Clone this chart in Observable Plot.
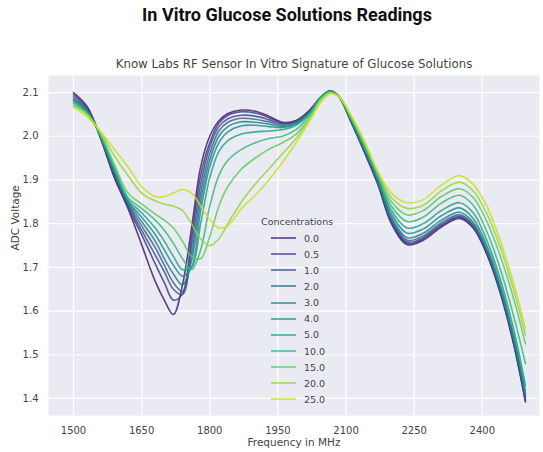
<!DOCTYPE html>
<html>
<head>
<meta charset="utf-8">
<script src="https://cdn.jsdelivr.net/npm/d3@7"></script>
<script src="https://cdn.jsdelivr.net/npm/@observablehq/plot@0.6"></script>
<style>
  body { margin: 0; background: white; }
  #wrap { position: relative; width: 543px; height: 452px; overflow: hidden; }
  #title { width: 543px; height: 30px; line-height: 30px; box-sizing: border-box; padding-left: 31px;
           text-align: center; font-family: Roboto, "Liberation Sans", sans-serif; font-weight: 700;
           font-size: 18px; color: #111; }
  #legend { position: absolute; left: 258px; top: 214px; font-family: "DejaVu Sans", sans-serif;
            font-size: 9.5px; color: #444; }
  #legend .lt { height: 16px; line-height: 16px; margin-left: 3px; }
  #legend .row { height: 16.15px; display: flex; align-items: center; }
  #legend svg { margin-left: 13px; margin-right: 8px; }
</style>
</head>
<body>
<div id="wrap">
  <div id="title">In Vitro Glucose Solutions Readings</div>
  <div id="chart"></div>
  <div id="legend"></div>
</div>
<script>
const subtitle = "Know Labs RF Sensor In Vitro Signature of Glucose Solutions";
const xLabel = "Frequency in MHz";
const yLabel = "ADC Voltage";
const legendTitle = "Concentrations";
const xTicks = [1500, 1650, 1800, 1950, 2100, 2250, 2400];
const yTicks = [1.4, 1.5, 1.6, 1.7, 1.8, 1.9, 2.0, 2.1];
const concentrations = ["0.0", "0.5", "1.0", "2.0", "3.0", "4.0", "5.0", "10.0", "15.0", "20.0", "25.0"];

const freq = [1500,1530,1560,1590,1620,1650,1680,1700,1720,1740,1760,1780,1800,1820,1840,1870,1900,1930,1960,1990,2020,2045,2065,2085,2110,2140,2170,2200,2235,2270,2310,2350,2380,2410,2440,2470,2495];

const v00  = [2.100,2.068,1.995,1.905,1.835,1.752,1.668,1.625,1.592,1.660,1.790,1.930,2.000,2.035,2.052,2.060,2.057,2.046,2.032,2.036,2.060,2.090,2.104,2.090,2.035,1.965,1.890,1.800,1.752,1.762,1.792,1.812,1.790,1.730,1.640,1.520,1.392];
const v05  = [2.095,2.065,1.995,1.908,1.838,1.775,1.708,1.665,1.625,1.640,1.770,1.910,1.985,2.030,2.048,2.056,2.053,2.043,2.030,2.035,2.058,2.090,2.104,2.090,2.036,1.966,1.892,1.803,1.755,1.765,1.795,1.815,1.792,1.732,1.642,1.522,1.395];
const v10  = [2.090,2.062,1.997,1.912,1.842,1.785,1.728,1.690,1.650,1.638,1.750,1.890,1.975,2.022,2.040,2.048,2.046,2.038,2.028,2.034,2.057,2.090,2.103,2.090,2.037,1.968,1.894,1.806,1.758,1.768,1.798,1.817,1.795,1.735,1.645,1.525,1.400];
const v20  = [2.085,2.060,1.998,1.916,1.846,1.795,1.745,1.705,1.665,1.645,1.730,1.870,1.960,2.012,2.032,2.041,2.039,2.033,2.025,2.032,2.056,2.090,2.103,2.090,2.038,1.970,1.897,1.810,1.762,1.772,1.802,1.820,1.798,1.738,1.648,1.530,1.405];
const v30  = [2.085,2.058,1.999,1.920,1.850,1.805,1.760,1.720,1.685,1.660,1.715,1.850,1.945,2.000,2.022,2.033,2.032,2.028,2.022,2.030,2.055,2.090,2.103,2.090,2.039,1.972,1.900,1.815,1.768,1.778,1.808,1.826,1.803,1.742,1.652,1.535,1.410];
const v40  = [2.080,2.056,2.000,1.922,1.852,1.815,1.775,1.740,1.705,1.680,1.700,1.830,1.930,1.985,2.010,2.024,2.025,2.022,2.020,2.028,2.054,2.090,2.103,2.090,2.040,1.974,1.903,1.822,1.778,1.788,1.818,1.836,1.812,1.750,1.660,1.540,1.418];
const v50  = [2.080,2.055,2.000,1.925,1.855,1.825,1.790,1.760,1.725,1.695,1.700,1.800,1.905,1.965,1.990,2.005,2.010,2.012,2.015,2.025,2.052,2.090,2.103,2.090,2.042,1.976,1.906,1.830,1.790,1.800,1.830,1.848,1.825,1.762,1.672,1.555,1.430];
const v100 = [2.075,2.052,2.002,1.930,1.860,1.835,1.808,1.785,1.755,1.720,1.695,1.740,1.840,1.910,1.945,1.970,1.985,1.995,2.000,2.015,2.048,2.088,2.102,2.090,2.044,1.980,1.910,1.840,1.805,1.815,1.847,1.865,1.842,1.782,1.695,1.585,1.480];
const v150 = [2.070,2.050,2.004,1.935,1.870,1.845,1.822,1.808,1.790,1.760,1.725,1.720,1.770,1.840,1.885,1.925,1.950,1.970,1.985,2.005,2.042,2.086,2.100,2.090,2.046,1.984,1.914,1.850,1.820,1.830,1.862,1.880,1.860,1.805,1.725,1.625,1.525];
const v200 = [2.070,2.050,2.008,1.955,1.910,1.870,1.852,1.845,1.840,1.830,1.800,1.765,1.750,1.765,1.800,1.850,1.890,1.925,1.960,1.995,2.040,2.083,2.099,2.090,2.048,1.987,1.917,1.860,1.835,1.842,1.875,1.895,1.875,1.823,1.745,1.645,1.545];
const v250 = [2.065,2.045,2.010,1.970,1.930,1.885,1.862,1.862,1.870,1.878,1.870,1.840,1.810,1.790,1.795,1.835,1.865,1.900,1.940,1.985,2.035,2.078,2.097,2.090,2.050,1.990,1.920,1.870,1.848,1.855,1.888,1.910,1.890,1.840,1.760,1.660,1.560];

const series = [v00, v05, v10, v20, v30, v40, v50, v100, v150, v200, v250];
const colors = concentrations.map((_, i) => d3.interpolateViridis((i + 1) / (concentrations.length + 1)));

const data = [];
series.forEach((vals, i) => vals.forEach((v, j) => data.push({f: freq[j], v, c: concentrations[i]})));

const chart = Plot.plot({
  width: 543,
  height: 422,
  marginTop: 45,
  marginBottom: 37,
  marginLeft: 48,
  marginRight: 4,
  style: {background: "white", fontFamily: "'DejaVu Sans', sans-serif", fontSize: "10px", color: "#444"},
  x: {domain: [1445, 2526]},
  y: {domain: [1.361, 2.139]},
  color: {domain: concentrations, range: colors},
  marks: [
    Plot.frame({fill: "#eaeaf2", stroke: null}),
    Plot.gridX(xTicks, {stroke: "white", strokeOpacity: 1, strokeWidth: 1.2}),
    Plot.gridY(yTicks, {stroke: "white", strokeOpacity: 1, strokeWidth: 1.2}),
    Plot.axisX(xTicks, {tickSize: 0, tickPadding: 11, label: null, tickFormat: d3.format("d"), fill: "#444"}),
    Plot.axisY(yTicks, {tickSize: 0, tickPadding: 10, label: null, tickFormat: d3.format(".1f"), fill: "#444"}),
    Plot.line(data, {x: "f", y: "v", z: "c", stroke: "c", curve: "catmull-rom", strokeWidth: 1.6, strokeOpacity: 0.85}),
    Plot.text([subtitle], {frameAnchor: "top", dy: -16, fontSize: 11.8, fill: "#444"}),
    Plot.text([xLabel], {frameAnchor: "bottom", dy: 30, fontSize: 10.5, fill: "#444"}),
    Plot.text([yLabel], {frameAnchor: "left", dx: -33, dy: 5, rotate: -90, fontSize: 10.5, fill: "#444"})
  ]
});
document.getElementById("chart").appendChild(chart);

const legend = document.getElementById("legend");
const lt = document.createElement("div");
lt.className = "lt";
lt.textContent = legendTitle;
legend.appendChild(lt);
concentrations.forEach((c, i) => {
  const row = document.createElement("div");
  row.className = "row";
  row.innerHTML = `<svg width="25" height="4"><line x1="0" x2="25" y1="2" y2="2" stroke="${colors[i]}" stroke-width="1.6" stroke-opacity="0.85"/></svg><span>${c}</span>`;
  legend.appendChild(row);
});
</script>
</body>
</html>
